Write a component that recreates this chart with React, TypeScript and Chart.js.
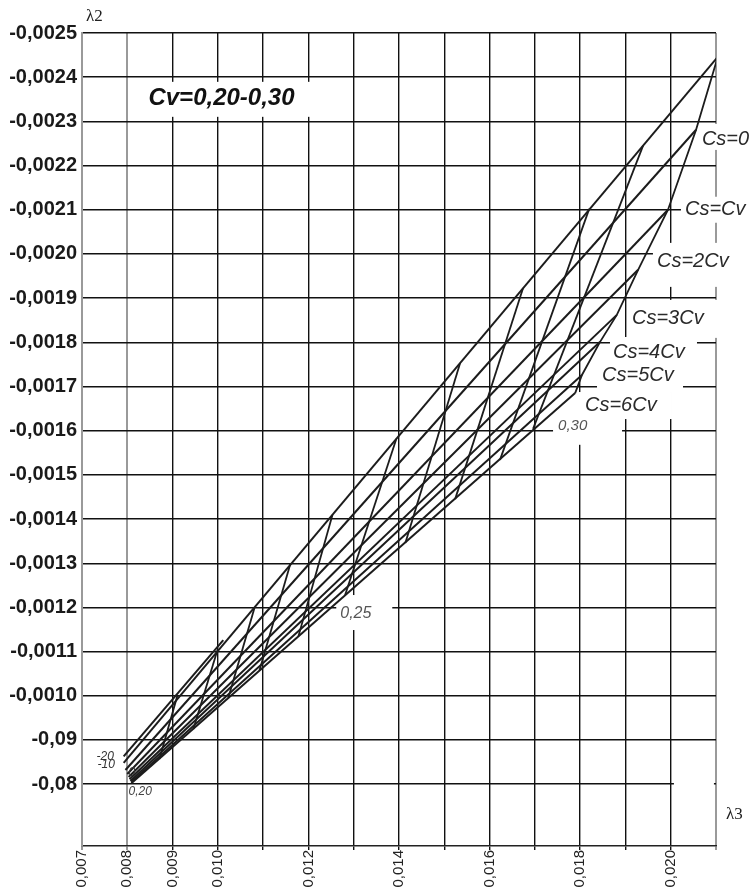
import React, { useEffect, useRef } from "react";
import { Chart, registerables } from "chart.js";

Chart.register(...registerables);

// ---- axis ticks ----
const xTickValues = [0.007, 0.008, 0.009, 0.010, 0.011, 0.012, 0.013, 0.014, 0.015, 0.016, 0.017, 0.018, 0.019, 0.020, 0.021];
const xTickLabels = ["0,007", "0,008", "0,009", "0,010", "", "0,012", "", "0,014", "", "0,016", "", "0,018", "", "0,020", ""];
const yTickValues = [-0.0025, -0.0024, -0.0023, -0.0022, -0.0021, -0.0020, -0.0019, -0.0018, -0.0017, -0.0016, -0.0015, -0.0014, -0.0013, -0.0012, -0.0011, -0.0010, -0.0009, -0.0008];
const yTickLabels = ["-0,0025", "-0,0024", "-0,0023", "-0,0022", "-0,0021", "-0,0020", "-0,0019", "-0,0018", "-0,0017", "-0,0016", "-0,0015", "-0,0014", "-0,0013", "-0,0012", "-0,0011", "-0,0010", "-0,09", "-0,08"];

// ---- Cs lines (λ3, λ2) from Cv = 0,20 end to Cv = 0,30 end ----
const csNames = ["-10", "Cs=0", "Cs=Cv", "Cs=2Cv", "Cs=3Cv", "Cs=4Cv", "Cs=5Cv", "Cs=6Cv"];
const csStartLam3 = [0.00792, 0.00796, 0.00800, 0.00803, 0.00805, 0.00807, 0.00809, 0.00809];
const csStartLam2 = [-0.000848, -0.000832, -0.000823, -0.000816, -0.000811, -0.000807, -0.000805, -0.000802];
const csEndLam3 = [0.02104, 0.02056, 0.01994, 0.01928, 0.01881, 0.01844, 0.01804, 0.01789];
const csEndLam2 = [-0.002446, -0.002281, -0.002100, -0.001964, -0.001862, -0.001801, -0.001726, -0.001685];

// short "-20" line
const shortLam3 = [0.00792, 0.01012];
const shortLam2 = [-0.000863, -0.001126];

// ---- Cv cross lines (top point on upper line, bottom point on lower line) ----
const cvValues = [0.20, 0.21, 0.22, 0.23, 0.24, 0.25, 0.26, 0.27, 0.28, 0.29];
const cvTopLam3 = [0.00911, 0.00999, 0.01081, 0.01160, 0.01253, 0.01394, 0.01535, 0.01674, 0.01820, 0.01939];
const cvTopLam2 = [-0.001002, -0.001103, -0.001199, -0.001298, -0.001409, -0.001581, -0.001753, -0.001923, -0.002102, -0.002245];
const cvBotLam3 = [0.00871, 0.00946, 0.01023, 0.01092, 0.01178, 0.01281, 0.01414, 0.01524, 0.01623, 0.01696];
const cvBotLam2 = [-0.000857, -0.000925, -0.000995, -0.001058, -0.001135, -0.001228, -0.001346, -0.001445, -0.001534, -0.001604];

// ---- text annotations (anchor in data units, white box offsets in px) ----
type Note = { text: string; x: number; y: number; font: string; color: string; box?: number[] };
const SANS = "'Liberation Sans', Arial, sans-serif";
const notes: Note[] = [
  { text: "Cv=0,20-0,30", x: 0.008467, y: -0.002351, font: `italic bold 24px ${SANS}`, color: "#111", box: [-8, -17, 162, 18] },
  { text: "Cs=0", x: 0.020689, y: -0.002258, font: `italic 20px ${SANS}`, color: "#2a2a2a", box: [-4, -16, 60, 10] },
  { text: "Cs=Cv", x: 0.020314, y: -0.0021, font: `italic 20px ${SANS}`, color: "#2a2a2a", box: [-4, -13, 70, 13] },
  { text: "Cs=2Cv", x: 0.019696, y: -0.001982, font: `italic 20px ${SANS}`, color: "#2a2a2a", box: [-4, -19, 98, 25] },
  { text: "Cs=3Cv", x: 0.019144, y: -0.001853, font: `italic 20px ${SANS}`, color: "#2a2a2a", box: [-4, -19, 122, 19] },
  { text: "Cs=4Cv", x: 0.018725, y: -0.001778, font: `italic 20px ${SANS}`, color: "#2a2a2a", box: [-3, -15, 84, 15] },
  { text: "Cs=5Cv", x: 0.018483, y: -0.001724, font: `italic 20px ${SANS}`, color: "#2a2a2a", box: [-5, -11, 81, 17] },
  { text: "Cs=6Cv", x: 0.018107, y: -0.001658, font: `italic 20px ${SANS}`, color: "#2a2a2a", box: [-7, -13, 87, 14] },
  { text: "0,30", x: 0.017512, y: -0.001611, font: `italic 15px ${SANS}`, color: "#555", box: [-5, -8, 64, 19] },
  { text: "0,25", x: 0.012703, y: -0.001185, font: `italic 16px ${SANS}`, color: "#555", box: [-4, -19, 52, 16] },
  { text: "-20", x: 0.00732, y: -0.000863, font: `italic 12px ${SANS}`, color: "#333" },
  { text: "-10", x: 0.007342, y: -0.000843, font: `italic 12px ${SANS}`, color: "#333" },
  { text: "0", x: 0.008026, y: -0.000827, font: `italic 12px ${SANS}`, color: "#333" },
  { text: "0,20", x: 0.008026, y: -0.000782, font: `italic 12px ${SANS}`, color: "#444" },
  { text: "", x: 0.020071, y: -0.0008, font: `12px ${SANS}`, color: "#000", box: [0, -6, 40, 6] },
];

const LINE = "#1c1c1c";
const GRID = "#111";

function buildDatasets() {
  const ds: any[] = [];
  const mk = (label: string, pts: { x: number; y: number }[], w = 2) => ({
    label,
    data: pts,
    showLine: true,
    borderColor: LINE,
    borderWidth: w,
    pointRadius: 0,
    fill: false,
    tension: 0,
  });
  csNames.forEach((n, i) => {
    ds.push(mk(n, [
      { x: csStartLam3[i], y: csStartLam2[i] },
      { x: csEndLam3[i], y: csEndLam2[i] },
    ]));
  });
  ds.push(mk("-20", shortLam3.map((v, i) => ({ x: v, y: shortLam2[i] }))));
  cvValues.forEach((c, i) => {
    ds.push(mk("Cv=" + c.toFixed(2), [
      { x: cvTopLam3[i], y: cvTopLam2[i] },
      { x: cvBotLam3[i], y: cvBotLam2[i] },
    ], 1.8));
  });
  ds.push(mk("Cv=0.30", csEndLam3.map((v, i) => ({ x: v, y: csEndLam2[i] })), 1.8));
  return ds;
}

const isGray = (v: number) => Math.abs(v - 0.007) < 1e-7 || Math.abs(v - 0.008) < 1e-7 || Math.abs(v - 0.021) < 1e-7;

const notesPlugin = {
  id: "notes",
  beforeDatasetsDraw(chart: any) {
    const { ctx, scales } = chart;
    ctx.save();
    ctx.fillStyle = "#fff";
    for (const n of notes) {
      if (!n.box) continue;
      const px = scales.x.getPixelForValue(n.x);
      const py = scales.y.getPixelForValue(n.y);
      ctx.fillRect(px + n.box[0], py + n.box[1], n.box[2] - n.box[0], n.box[3] - n.box[1]);
    }
    ctx.restore();
  },
  afterDraw(chart: any) {
    const { ctx, scales, chartArea } = chart;
    ctx.save();
    ctx.textBaseline = "middle";
    ctx.textAlign = "left";
    for (const n of notes) {
      if (!n.text) continue;
      const px = scales.x.getPixelForValue(n.x);
      const py = scales.y.getPixelForValue(n.y);
      ctx.font = n.font;
      ctx.fillStyle = n.color;
      ctx.fillText(n.text, px, py);
    }
    ctx.font = "17px 'Liberation Serif', 'DejaVu Serif', serif";
    ctx.fillStyle = "#222";
    ctx.fillText("λ2", chartArea.left + 4, chartArea.top - 16);
    ctx.fillText("λ3", chartArea.right + 10, chartArea.bottom - 31);
    ctx.restore();
  },
};

export default function App() {
  const ref = useRef<HTMLCanvasElement>(null);
  useEffect(() => {
    if (!ref.current) return;
    const chart = new Chart(ref.current, {
      type: "scatter",
      data: { datasets: buildDatasets() },
      options: {
        animation: false,
        responsive: false,
        devicePixelRatio: 1,
        layout: { padding: { left: 0, right: 35, top: 33, bottom: 0 } },
        plugins: { legend: { display: false }, tooltip: { enabled: false } },
        scales: {
          x: {
            type: "linear",
            min: 0.007,
            max: 0.021,
            afterBuildTicks: (s: any) => {
              s.ticks = xTickValues.map((v) => ({ value: v }));
            },
            afterFit: (s: any) => {
              s.height = 41;
            },
            ticks: {
              autoSkip: false,
              minRotation: 90,
              maxRotation: 90,
              padding: 0,
              color: "#222",
              font: { family: SANS, size: 15 },
              callback: (_v: any, i: number) => xTickLabels[i],
            },
            grid: {
              color: (c: any) => (c.tick && isGray(c.tick.value) ? "#9a9a9a" : GRID),
              lineWidth: (c: any) => (c.tick && isGray(c.tick.value) ? 2 : 1.4),
              drawTicks: true,
              tickLength: 4,
            },
            border: { color: "#222", width: 1.5 },
          },
          y: {
            type: "linear",
            reverse: true,
            min: -0.0025,
            max: -0.00066,
            afterBuildTicks: (s: any) => {
              s.ticks = yTickValues.map((v) => ({ value: v }));
            },
            afterFit: (s: any) => {
              s.width = 82;
            },
            ticks: {
              autoSkip: false,
              padding: 5,
              color: "#1a1a1a",
              font: { family: SANS, size: 20, weight: "bold" },
              callback: (_v: any, i: number) => yTickLabels[i],
            },
            grid: { color: GRID, lineWidth: 1.4, drawTicks: false },
            border: { color: "#9a9a9a", width: 2 },
          },
        },
      },
      plugins: [notesPlugin],
    } as any);
    return () => chart.destroy();
  }, []);
  return (
    <div style={{ position: "absolute", left: 0, top: 0, width: 751, height: 887, background: "#fff" }}>
      <canvas ref={ref} width={751} height={887} style={{ display: "block", width: 751, height: 887 }} />
    </div>
  );
}
